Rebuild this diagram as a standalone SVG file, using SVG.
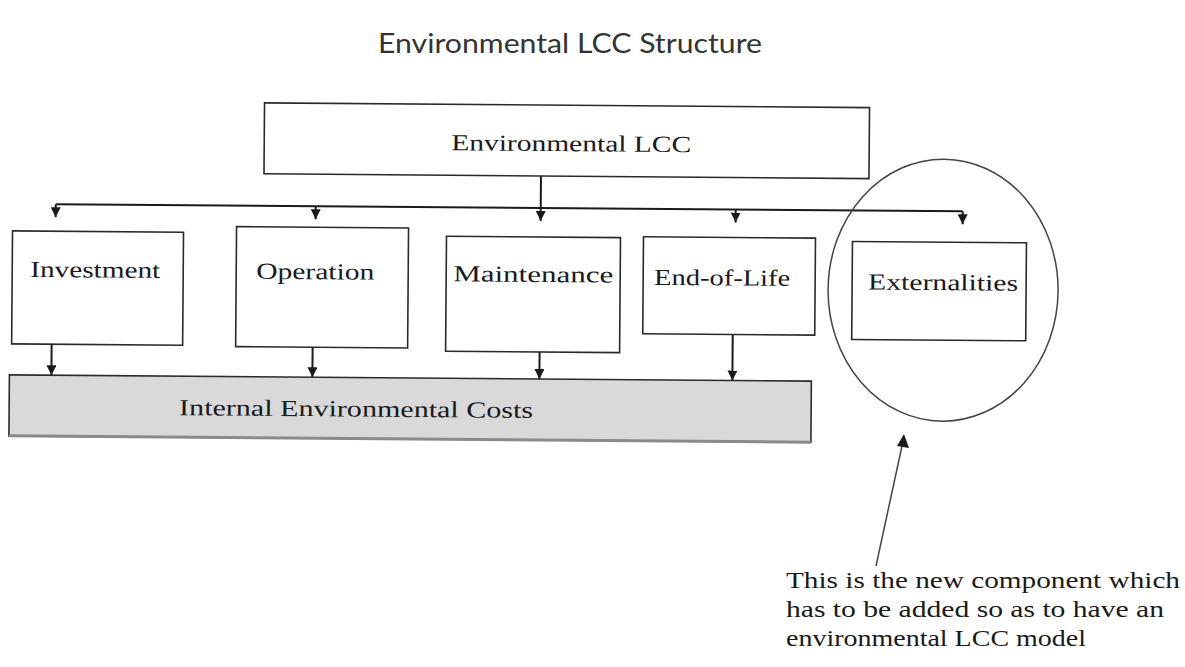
<svg xmlns="http://www.w3.org/2000/svg" width="1185" height="667" viewBox="0 0 1185 667">
  <style>
    .box { fill: #ffffff; stroke: #2a2a2a; stroke-width: 1.6; }
    .bar { fill: #d9d9d9; stroke: #2a2a2a; stroke-width: 1.6; }
    .lbl { font-family: "Liberation Serif", "Times New Roman", serif; font-size: 23px; fill: #1a1a1a; }
    .ann { font-family: "Liberation Serif", "Times New Roman", serif; font-size: 24px; fill: #1a1a1a; }
    .title { font-family: Lato, "Open Sans", sans-serif; font-size: 26px; fill: #333333; }
    .conn { stroke: #1a1a1a; stroke-width: 2; fill: none; }
    .thin { stroke: #444444; stroke-width: 1.5; fill: none; }
  </style>
  <defs>
    <marker id="tri" viewBox="0 0 10 10" refX="10" refY="5" markerWidth="5" markerHeight="5" orient="auto" markerUnits="strokeWidth">
      <path d="M0,0 L10,5 L0,10 Z" fill="#1a1a1a"/>
    </marker>
  </defs>

  <text class="title" x="570" y="53" text-anchor="middle" textLength="384" lengthAdjust="spacingAndGlyphs">Environmental LCC Structure</text>

  <g id="diagram" transform="rotate(0.45 540 300)">
    <g id="connectors">
      <path class="conn" d="M540,176 V208"/>
      <path class="conn" d="M55,208 H962"/>
      <path class="conn" d="M55,208 V221" marker-end="url(#tri)"/>
      <path class="conn" d="M315,208 V221" marker-end="url(#tri)"/>
      <path class="conn" d="M540,208 V221" marker-end="url(#tri)"/>
      <path class="conn" d="M735,208 V221" marker-end="url(#tri)"/>
      <path class="conn" d="M962,208 V221" marker-end="url(#tri)"/>
      <path class="conn" d="M52,348 V379" marker-end="url(#tri)"/>
      <path class="conn" d="M313,349 V379" marker-end="url(#tri)"/>
      <path class="conn" d="M540,352 V379" marker-end="url(#tri)"/>
      <path class="conn" d="M733,333 V379" marker-end="url(#tri)"/>
    </g>

    <g id="node-env-lcc">
      <rect class="box" x="263" y="105" width="605" height="71"/>
      <text class="lbl" x="570" y="151" text-anchor="middle" textLength="240" lengthAdjust="spacingAndGlyphs">Environmental LCC</text>
    </g>
    <g id="node-investment">
      <rect class="box" x="12" y="235" width="171" height="113"/>
      <text class="lbl" x="95" y="281" text-anchor="middle" textLength="130" lengthAdjust="spacingAndGlyphs">Investment</text>
    </g>
    <g id="node-operation">
      <rect class="box" x="236" y="229" width="172" height="120"/>
      <text class="lbl" x="315" y="281" text-anchor="middle" textLength="118" lengthAdjust="spacingAndGlyphs">Operation</text>
    </g>
    <g id="node-maintenance">
      <rect class="box" x="446" y="237" width="174" height="115"/>
      <text class="lbl" x="533" y="282" text-anchor="middle" textLength="160" lengthAdjust="spacingAndGlyphs">Maintenance</text>
    </g>
    <g id="node-eol">
      <rect class="box" x="643" y="236" width="172" height="97"/>
      <text class="lbl" x="722" y="284" text-anchor="middle" textLength="136" lengthAdjust="spacingAndGlyphs">End-of-Life</text>
    </g>
    <g id="node-externalities">
      <rect class="box" x="852" y="239" width="174" height="98"/>
      <text class="lbl" x="943" y="287" text-anchor="middle" textLength="150" lengthAdjust="spacingAndGlyphs">Externalities</text>
    </g>
    <g id="node-internal">
      <rect class="bar" x="10" y="379" width="802" height="61"/>
      <line x1="10" y1="440" x2="812" y2="440" stroke="#8a8a8a" stroke-width="3"/>
      <text class="lbl" x="357" y="418" text-anchor="middle" textLength="354" lengthAdjust="spacingAndGlyphs">Internal Environmental Costs</text>
    </g>
    <g id="highlight">
      <ellipse class="thin" cx="943" cy="287" rx="115" ry="131"/>
    </g>
  </g>

  <g id="annotation">
    <path class="thin" d="M876,566 L902,446"/>
    <polygon points="904,434 909,448 897,446" fill="#1a1a1a"/>
    <text class="ann" x="786" y="588" textLength="394" lengthAdjust="spacingAndGlyphs">This is the new component which</text>
    <text class="ann" x="786" y="617" textLength="378" lengthAdjust="spacingAndGlyphs">has to be added so as to have an</text>
    <text class="ann" x="786" y="646" textLength="300" lengthAdjust="spacingAndGlyphs">environmental LCC model</text>
  </g>
</svg>
